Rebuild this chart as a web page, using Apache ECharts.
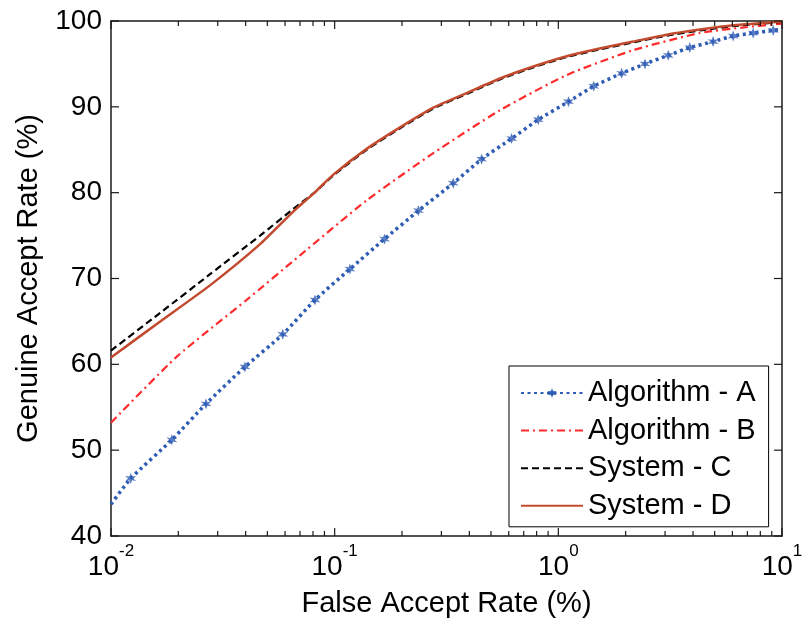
<!DOCTYPE html>
<html>
<head>
<meta charset="utf-8">
<script src="https://cdn.jsdelivr.net/npm/echarts@6/dist/echarts.min.js"></script>
<style>
  html, body { margin: 0; padding: 0; background: #fff; }
  #chart { width: 809px; height: 624px; }
</style>
</head>
<body>
<div id="chart"></div>
<script>
// values (x = FAR %, y = GAR %)
const seriesNames = ["Algorithm - A", "Algorithm - B", "System - C", "System - D"];

const algoA = [
  [0.01, 43.7], [0.01225, 46.7], [0.0187, 51.2], [0.0266, 55.4], [0.0397, 59.7],
  [0.0586, 63.5], [0.0817, 67.5], [0.117, 71.1], [0.167, 74.6], [0.237, 77.9],
  [0.339, 81.1], [0.454, 83.9], [0.618, 86.3], [0.813, 88.5], [1.11, 90.6],
  [1.44, 92.4], [1.92, 93.9], [2.44, 95.0], [3.10, 96.0], [3.87, 96.9],
  [4.92, 97.6], [6.05, 98.25], [7.43, 98.6], [9.14, 98.9], [10, 99.0]
];
const algoB = [
  [0.01, 53.2], [0.0197, 60.9], [0.0404, 67.5], [0.070, 72.7], [0.139, 79.1],
  [0.276, 84.6], [0.548, 89.6], [1.09, 93.7], [2.16, 96.6], [4.3, 98.6],
  [7.0, 99.3], [10, 99.7]
];
const systemC = [
  [0.01, 61.6], [0.0166, 66.0], [0.0277, 70.5], [0.0464, 75.0], [0.0653, 78.1],
  [0.082, 80.1], [0.0986, 82.0], [0.139, 85.0], [0.196, 87.5], [0.276, 89.8],
  [0.389, 91.5], [0.548, 93.2], [0.773, 94.6], [1.09, 95.8], [1.53, 96.7],
  [2.16, 97.5], [3.05, 98.3], [4.3, 98.9], [6.05, 99.4], [10, 99.9]
];
const systemD = [
  [0.01, 60.8], [0.0166, 65.0], [0.0277, 69.2], [0.0464, 74.0], [0.0653, 77.8],
  [0.082, 80.1], [0.0986, 82.1], [0.139, 85.1], [0.196, 87.6], [0.276, 89.9],
  [0.389, 91.6], [0.548, 93.3], [0.773, 94.7], [1.09, 95.9], [1.53, 96.8],
  [2.16, 97.6], [3.05, 98.4], [4.3, 99.0], [6.05, 99.5], [10, 99.95]
];

// axis ranges and ticks
const xRange = [0.01, 10];
const yRange = [40, 100];
const xMajorTicks = [0.01, 0.1, 1, 10];
const xMinorTicks = [
  0.02, 0.03, 0.04, 0.05, 0.06, 0.07, 0.08, 0.09,
  0.2, 0.3, 0.4, 0.5, 0.6, 0.7, 0.8, 0.9,
  2, 3, 4, 5, 6, 7, 8, 9
];
const yTicks = [40, 50, 60, 70, 80, 90, 100];

const FONT = "'Liberation Sans', Arial, sans-serif";
const AXIS_COLOR = "#1a1a1a";
const starPath = "path://M5 0L6.3 3.3L10 2.8L7.4 5L10 7.2L6.3 6.7L5 10L3.7 6.7L0 7.2L2.6 5L0 2.8L3.7 3.3Z";

const chart = echarts.init(document.getElementById("chart"));

function frameAxis(type, position, extra) {
  return Object.assign({
    type: type,
    position: position,
    axisLine: { show: true, lineStyle: { color: AXIS_COLOR, width: 1.5 } },
    axisTick: { show: false },
    axisLabel: { show: false },
    splitLine: { show: false },
  }, extra);
}

try {
  chart.setOption({
    animation: false,
    grid: { left: 111, right: 27, top: 21, bottom: 88, containLabel: false, outerBoundsMode: "none" },
    legend: {
      orient: "vertical",
      left: 509,
      top: 366,
      padding: [12, 13, 6, 11],
      itemGap: 7.6,
      itemWidth: 62,
      itemHeight: 12,
      backgroundColor: "#fff",
      borderColor: "#000",
      borderWidth: 1,
      borderRadius: 0,
      textStyle: { fontFamily: FONT, fontSize: 29, color: "#000", lineHeight: 30 },
      data: seriesNames.map((n, i) => (i === 0 ? { name: n } : { name: n, itemStyle: { opacity: 0 } })),
    },
    xAxis: [
      frameAxis("log", "bottom", {
        min: xRange[0],
        max: xRange[1],
        name: "False Accept Rate (%)",
        nameLocation: "middle",
        nameGap: 53,
        nameTextStyle: { fontFamily: FONT, fontSize: 29, color: "#000" },
        axisLabel: {
          show: true,
          margin: 7,
          formatter: (v) => "{b|10}{s|" + Math.round(Math.log10(v)) + "}",
          rich: {
            b: { fontFamily: FONT, fontSize: 28, lineHeight: 38, color: "#000", verticalAlign: "bottom" },
            s: { fontFamily: FONT, fontSize: 17, lineHeight: 20, color: "#000", verticalAlign: "top" },
          },
        },
      }),
      frameAxis("log", "top", { min: xRange[0], max: xRange[1] }),
    ],
    yAxis: [
      frameAxis("value", "left", {
        min: yRange[0],
        max: yRange[1],
        interval: 10,
        name: "Genuine Accept Rate (%)",
        nameLocation: "middle",
        nameGap: 68,
        nameTextStyle: { fontFamily: FONT, fontSize: 29, color: "#000" },
        axisLabel: { show: true, margin: 9, fontFamily: FONT, fontSize: 28, color: "#000" },
      }),
      frameAxis("value", "right", { min: yRange[0], max: yRange[1], interval: 10 }),
    ],
    series: [
      {
        name: seriesNames[0],
        type: "line",
        data: algoA,
        symbol: starPath,
        symbolSize: 11,
        showSymbol: false,
        smooth: 0.2,
        itemStyle: { color: "#2F5DB5" },
        lineStyle: { color: "#2F5DB5", width: 3.5, type: [3, 3.5] },
      },
      {
        name: seriesNames[0],
        type: "scatter",
        data: algoA.slice(1, -1),
        symbol: starPath,
        symbolSize: 11,
        itemStyle: { color: "#2F5DB5" },
      },
      {
        name: seriesNames[1],
        type: "line",
        data: algoB,
        showSymbol: false,
        symbol: "none",
        smooth: 0.2,
        itemStyle: { color: "#FF2A2A" },
        lineStyle: { color: "#FF2A2A", width: 2.2, type: [8, 4, 2, 4] },
      },
      {
        name: seriesNames[2],
        type: "line",
        data: systemC,
        showSymbol: false,
        symbol: "none",
        smooth: 0.2,
        itemStyle: { color: "#000" },
        lineStyle: { color: "#000", width: 2.2, type: [7, 4] },
      },
      {
        name: seriesNames[3],
        type: "line",
        data: systemD,
        showSymbol: false,
        symbol: "none",
        smooth: 0.2,
        itemStyle: { color: "#C24A2E" },
        lineStyle: { color: "#C24A2E", width: 2.5 },
      },
    ],
  });
} catch (e) {
  // keep going so the frame ticks are still added
}

// inward ticks as thin filled bars (no stroke, so no dash state can hide them)
function tickBar(x, y, w, h) {
  return {
    type: "rect",
    silent: true,
    z: 10,
    shape: { x: x, y: y, width: w, height: h },
    style: { fill: AXIS_COLOR, stroke: null, lineWidth: 0 },
  };
}

try {
  const toPx = (pt) => chart.convertToPixel({ gridIndex: 0 }, pt);
  const ticks = [];
  xMajorTicks.concat(xMinorTicks).forEach((v) => {
    const len = xMajorTicks.indexOf(v) >= 0 ? 8 : 5;
    const b = toPx([v, yRange[0]]);
    const t = toPx([v, yRange[1]]);
    ticks.push(tickBar(b[0] - 0.6, b[1] - len, 1.2, len));
    ticks.push(tickBar(t[0] - 0.6, t[1], 1.2, len));
  });
  yTicks.forEach((v) => {
    const l = toPx([xRange[0], v]);
    const r = toPx([xRange[1], v]);
    ticks.push(tickBar(l[0], l[1] - 0.6, 8, 1.2));
    ticks.push(tickBar(r[0] - 8, r[1] - 0.6, 8, 1.2));
  });
  chart.setOption({ graphic: ticks });
} catch (e) {
  // nothing else to draw
}
</script>
</body>
</html>
